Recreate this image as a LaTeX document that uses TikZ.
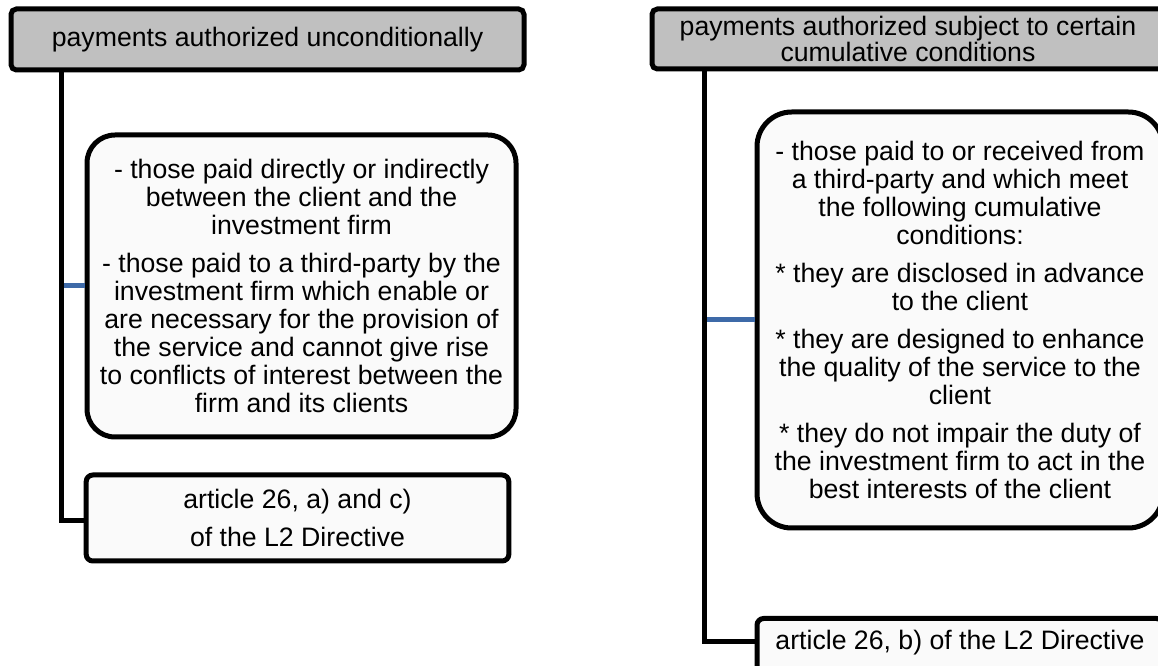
\documentclass[tikz,border=0pt]{standalone}
\usepackage{fontspec}
\setmainfont{Liberation Sans}
\begin{document}
\begin{tikzpicture}[x=0.75pt, y=-0.75pt,
    kopf/.style={draw=black, fill=ciHeadFill, line width=3.75pt, rounded corners=4pt,
        inner sep=0pt, align=center, font=\fontsize{20}{19.5}\selectfont},
    inhalt/.style={draw=black, fill=ciBodyFill, line width=3.75pt, rounded corners=24pt,
        inner sep=0pt, align=center, font=\fontsize{20}{21}\selectfont},
    quelle/.style={draw=black, fill=ciBodyFill, line width=3.75pt, rounded corners=5pt,
        inner sep=0pt, align=center, font=\fontsize{20}{21}\selectfont},
    stamm/.style={draw=black, line width=3.75pt},
    ast/.style={draw=ciLink, line width=3.75pt}]
        % Farben
        \definecolor{ciHeadFill}{HTML}{C0C0C0}
        \definecolor{ciBodyFill}{HTML}{FAFAFA}
        \definecolor{ciLink}{HTML}{3E6AA8}

        % Rahmen (Bild ist rechts und unten beschnitten)
        \useasboundingbox (0,0) rectangle (1158,666);
        \clip (0,0) rectangle (1158,666);

        % linke Spalte
        \node[kopf, minimum width=384.75pt, minimum height=45.75pt] (headLeft) at (267.5,39.5)
            {payments authorized unconditionally};
        \node[inhalt, rounded corners=21pt, minimum width=321.75pt, minimum height=226.5pt] (bodyLeft) at (301.5,286)
            {- those paid directly or indirectly\\ between the client and the\\ investment firm\\[7.5pt]
             - those paid to a third-party by the\\ investment firm which enable or\\
             are necessary for the provision of\\ the service and cannot give rise\\
             to conflicts of interest between the\\ firm and its clients};
        \node[quelle, minimum width=317pt, minimum height=64.5pt] (refLeft) at (297.5,518)
            {article 26, a) and c)\\[7.5pt] of the L2 Directive};
        \coordinate (trunkLeft) at (61.5,70);

        % rechte Spalte
        \node[kopf, minimum width=384pt, minimum height=45pt] (headRight) at (908,39)
            {payments authorized subject to certain\\ cumulative conditions};
        \node[inhalt, rounded corners=26pt, minimum width=304.5pt, minimum height=312pt] (bodyRight) at (960,320)
            {- those paid to or received from\\ a third-party and which meet\\
             the following cumulative\\ conditions:\\[7.5pt]
             * they are disclosed in advance\\ to the client\\[7.5pt]
             * they are designed to enhance\\ the quality of the service to the\\ client\\[7.5pt]
             * they do not impair the duty of\\ the investment firm to act in the\\
             best interests of the client};
        \node[quelle, anchor=north, minimum width=304.5pt, text height=16pt, text depth=44pt,
            inner ysep=7pt] (refRight) at (960,616)
            {article 26, b) of the L2 Directive};
        \coordinate (trunkRight) at (704,69);

        % Verbindungen
        \draw[ast] (bodyLeft.west -| trunkLeft) -- (bodyLeft.west);
        \draw[ast] (bodyRight.west -| trunkRight) -- (bodyRight.west);
        \draw[stamm] (trunkLeft) |- ([yshift=-2.25pt]refLeft.west);
        \draw[stamm] (trunkRight) |- ([yshift=-19.5pt]refRight.north west);
\end{tikzpicture}
\end{document}
